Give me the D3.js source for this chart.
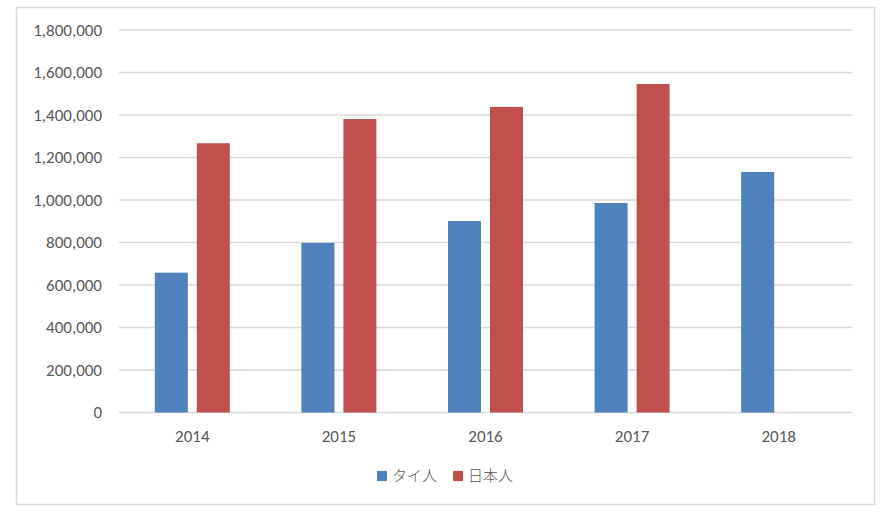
<!DOCTYPE html>
<html>
<head>
<meta charset="utf-8">
<script src="https://cdn.jsdelivr.net/npm/d3@7"></script>
<style>
  html, body { margin: 0; padding: 0; background: #fff; }
  svg text { font-family: Carlito, Lato, "Noto Sans", sans-serif; fill: #595959; }
</style>
</head>
<body>
<svg id="chart" width="883" height="514"></svg>
<script>
// データ
const years = ["2014", "2015", "2016", "2017", "2018"];
const seriesNames = ["タイ人", "日本人"];
const thai = [658000, 798000, 901000, 986000, 1132000];
const japanese = [1267000, 1381000, 1438000, 1546000, null];
const yTicks = [0, 200000, 400000, 600000, 800000, 1000000, 1200000, 1400000, 1600000, 1800000];
const colors = ["#4f81bd", "#c0504d"];

const PLOT = { LEFT: 119, RIGHT: 852, TOP: 30, BOTTOM: 412.5 };

const svg = d3.select("#chart");

// 外枠
svg.append("rect")
  .attr("x", 16.5).attr("y", 7.5)
  .attr("width", 858).attr("height", 497)
  .attr("fill", "#fff")
  .attr("stroke", "#d9d9d9")
  .attr("stroke-width", 1.5);

const x0 = d3.scaleBand()
  .domain(years)
  .range([PLOT.LEFT, PLOT.RIGHT]);

const x1 = d3.scaleBand()
  .domain(seriesNames)
  .range([0, 75])
  .paddingInner(0.214);

const y = d3.scaleLinear()
  .domain([0, 1800000])
  .range([PLOT.BOTTOM, PLOT.TOP]);

// グリッド線
svg.append("g")
  .selectAll("line")
  .data(yTicks)
  .enter()
  .append("line")
  .attr("x1", PLOT.LEFT).attr("x2", PLOT.RIGHT)
  .attr("y1", d => y(d)).attr("y2", d => y(d))
  .attr("stroke", "#d9d9d9")
  .attr("stroke-width", 1.5);

// Y軸ラベル
const fmt = d3.format(",");
svg.append("g")
  .selectAll("text")
  .data(yTicks)
  .enter()
  .append("text")
  .attr("x", 102)
  .attr("y", d => y(d))
  .attr("dy", "0.35em")
  .attr("text-anchor", "end")
  .style("font-size", "17px")
  .text(d => fmt(d));

// X軸ラベル
svg.append("g")
  .selectAll("text")
  .data(years)
  .enter()
  .append("text")
  .attr("x", d => x0(d) + x0.bandwidth() / 2)
  .attr("y", 436)
  .attr("dy", "0.35em")
  .attr("text-anchor", "middle")
  .style("font-size", "17px")
  .text(d => d);

// 棒
const rows = years.map((yr, i) => ({ year: yr, values: [thai[i], japanese[i]] }));
const groups = svg.append("g")
  .selectAll("g")
  .data(rows)
  .enter()
  .append("g")
  .attr("transform", d => `translate(${x0(d.year) + (x0.bandwidth() - 75) / 2},0)`);

groups.selectAll("rect")
  .data(d => d.values.map((v, j) => ({ name: seriesNames[j], value: v, j: j })).filter(d => d.value != null))
  .enter()
  .append("rect")
  .attr("x", d => x1(d.name))
  .attr("y", d => y(d.value))
  .attr("width", x1.bandwidth())
  .attr("height", d => PLOT.BOTTOM - y(d.value))
  .attr("fill", d => colors[d.j]);

// 凡例
const legendPos = [377, 453];
const legend = svg.append("g")
  .selectAll("g")
  .data(seriesNames)
  .enter()
  .append("g")
  .attr("transform", (d, i) => `translate(${legendPos[i]},471)`);
legend.append("rect")
  .attr("width", 10).attr("height", 10)
  .attr("fill", (d, i) => colors[i]);
legend.append("text")
  .attr("x", 15)
  .attr("y", 5)
  .attr("dy", "0.36em")
  .style("font-size", "15px")
  .style("font-family", "'Noto Sans CJK JP', sans-serif")
  .style("font-weight", 300)
  .text(d => d);
</script>
</body>
</html>
